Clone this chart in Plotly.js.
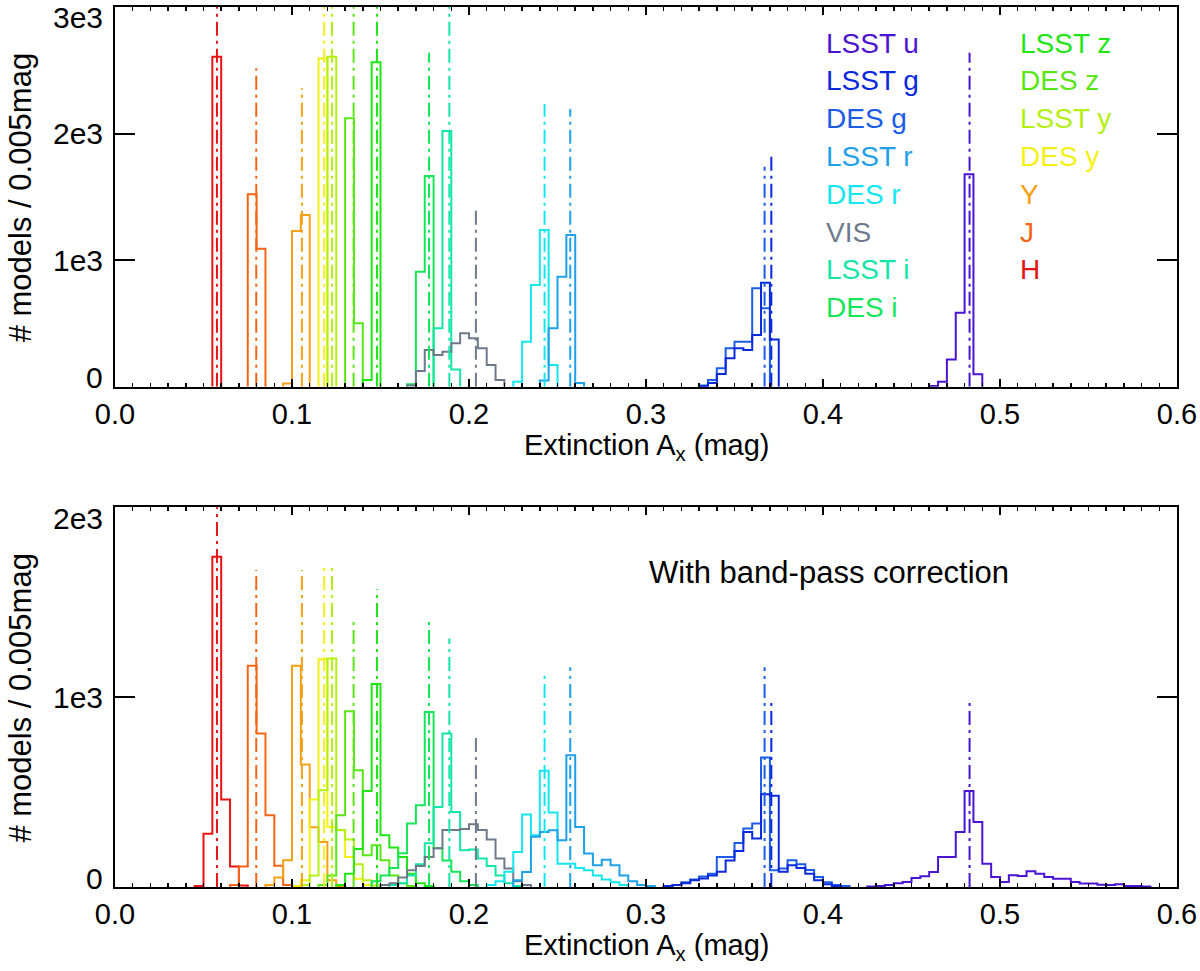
<!DOCTYPE html>
<html><head><meta charset="utf-8">
<script src="https://cdn.plot.ly/plotly-3.0.1.min.js"></script>
<style>body{margin:0;background:#fff}</style>
</head><body><div id="chart" style="width:1200px;height:971px"></div>
<script>
// ---------------- DATA ----------------
const binWidth = 0.005;
const bands = ['LSST u','LSST g','DES g','LSST r','DES r','VIS','LSST i','DES i','LSST z','DES z','LSST y','DES y','Y','J','H'];
const bandColors = ['#4a14d2','#0a28dc','#1a5ce6','#1ea0ea','#14e6f0','#6e7a8c','#14e6a8','#14e65a','#1ee614','#5ae614','#b4f014','#f5f014','#f5a014','#f56414','#e61414'];
// expected extinction of each band (dash-dot lines)
const refX = [0.4828,0.3708,0.3670,0.2572,0.2427,0.2039,0.1889,0.1774,0.1480,0.1348,0.1226,0.1182,0.1056,0.0798,0.0576];
const refHeightTop = [2639,1823,1738,2194,2234,1417,3300,2639,3300,3300,3300,3300,2358,2516,3300];
const refHeightBottom = [980,984,1157,1157,1111,794,1309,1397,1568,1397,1696,1696,1669,1669,2200];

// top panel: left edge of first bin, then counts per 0.005 mag bin
const topStart = [0.460,0.330,0.330,0.240,0.225,0.165,0.180,0.165,0.140,0.130,0.120,0.115,0.095,0.075,0.055];
const topLSSTu = [5,40,216,585,1678,98];
const topLSSTg = [5,30,100,224,303,290,408,822,374];
const topDESg  = [10,53,145,303,356,356,777,619];
const topLSSTr = [50,461,869,1199,30];
const topDESr  = [40,356,803,1238,171];
const topVIS   = [10,124,290,250,277,343,422,382,303,171,53];
const topLSSTi = [461,2020,137];
const topDESi  = [20,908,1665];
const topLSSTz = [53,2563];
const topDESz  = [2121,501];
const topLSSTy = [2607];
const topDESy  = [2594];
const topY     = [25,1230,1357];
const topJ     = [1520,1090];
const topH     = [2607];

// bottom panel (with band-pass correction)
const botStart = [0.425,0.310,0.310,0.225,0.210,0.150,0.155,0.145,0.125,0.115,0.105,0.100,0.085,0.065,0.045];
const botLSSTu = [3,5,10,20,26,47,56,79,158,158,290,506,343,123,53,26,62,58,83,70,53,44,44,26,18,18,12,10,15,5,5,3];
const botLSSTg = [5,10,20,35,45,60,80,140,190,290,255,489,480,80,115,100,70,35,15,5];
const botDESg  = [5,10,25,39,55,70,158,158,232,308,334,682,88,97,141,120,90,53,25,10,5];
const botLSSTr = [35,79,265,290,299,246,694,316,176,115,144,115,60,30,10,5];
const botDESr  = [10,30,80,185,382,273,612,392,123,123,100,88,60,40,25,10];
const botVIS   = [10,20,50,88,110,158,204,300,300,306,330,300,250,150,97,30,10];
const botLSSTi = [10,20,60,120,230,422,809,395,193,197,150,110,60,20,5];
const botDESi  = [30,60,100,178,334,431,922,204,140,80,30,10];
const botLSSTz = [10,70,200,505,1069,272,208,158,70,20,5];
const botDESz  = [10,60,378,926,615,167,220,141,60,20,5];
const botLSSTy = [10,60,510,1204,300,250,120,35,8];
const botDESy  = [5,35,461,1199,316,299,158,44,10];
const botY     = [10,50,141,1165,645,315,237,35,5];
const botJ     = [10,108,1165,809,378,112,10];
const botH     = [5,280,1740,461,108,8];

const xTickVals = [0,0.1,0.2,0.3,0.4,0.5,0.6];
const yTickValsTop = [0,1000,2000,3000];
const yTickTextTop = ['0','1e3','2e3','3e3'];
const yTickValsBot = [0,1000,2000];
const yTickTextBot = ['0','1e3','2e3'];
const legendCol1 = bands.slice(0,8);
const legendCol2 = bands.slice(8);

const topCounts = [topLSSTu,topLSSTg,topDESg,topLSSTr,topDESr,topVIS,topLSSTi,topDESi,topLSSTz,topDESz,topLSSTy,topDESy,topY,topJ,topH];
const botCounts = [botLSSTu,botLSSTg,botDESg,botLSSTr,botDESr,botVIS,botLSSTi,botDESi,botLSSTz,botDESz,botLSSTy,botDESy,botY,botJ,botH];

// ---------------- BUILD ----------------
const FONT = 'Liberation Sans, Helvetica, Arial, sans-serif';
function histTrace(start, counts, color, xa, ya){
  const xs = [start], ys = [0];
  for(let i=0;i<counts.length;i++){ xs.push(+(start+i*binWidth).toFixed(4)); ys.push(counts[i]); }
  xs.push(+(start+counts.length*binWidth).toFixed(4)); ys.push(0);
  return {type:'scatter', mode:'lines', x:xs, y:ys, xaxis:xa, yaxis:ya,
    line:{shape:'hv', color:color, width:2}, hoverinfo:'skip', showlegend:false};
}
function refTrace(x, h, color, xa, ya){
  return {type:'scatter', mode:'lines', x:[x,x], y:[0,h], xaxis:xa, yaxis:ya,
    line:{color:color, width:2, dash:'14px,5px,3px,5px'}, hoverinfo:'skip', showlegend:false};
}
const traces = [];
for(let i=bands.length-1;i>=0;i--){
  traces.push(histTrace(topStart[i], topCounts[i], bandColors[i], 'x', 'y'));
  traces.push(histTrace(botStart[i], botCounts[i], bandColors[i], 'x2', 'y2'));
}
for(let i=bands.length-1;i>=0;i--){
  traces.push(refTrace(refX[i], refHeightTop[i], bandColors[i], 'x', 'y'));
  traces.push(refTrace(refX[i], refHeightBottom[i], bandColors[i], 'x2', 'y2'));
}

function xAxis(anchor){
  return {domain:[0,1], anchor:anchor, range:[0,0.6], showgrid:false, zeroline:false,
    showline:true, linecolor:'#000', linewidth:2, mirror:'allticks',
    ticks:'inside', ticklen:8, tickwidth:2, tickcolor:'#000',
    tickvals:xTickVals, tickformat:'.1f',
    tickfont:{family:FONT, size:29, color:'#000'},
    minor:{dtick:0.01, ticks:'inside', ticklen:4, tickwidth:1.5, tickcolor:'#000'}};
}
function yAxis(anchor, domain, range, vals){
  return {domain:domain, anchor:anchor, range:range, showgrid:false, zeroline:false,
    showline:true, linecolor:'#000', linewidth:2, mirror:'allticks',
    ticks:'inside', ticklen:20, tickwidth:2, tickcolor:'#000',
    tickvals:vals, showticklabels:false};
}

const annotations = [];
const tickShiftTop = [9,0,0,-10];
const tickShiftBot = [9,0,-11];
yTickValsTop.forEach((v,i)=>annotations.push({xref:'paper', yref:'y', x:0, y:v, xanchor:'right', yanchor:'middle',
  xshift:-10, yshift:tickShiftTop[i], text:yTickTextTop[i], showarrow:false, font:{family:FONT,size:30,color:'#000'}}));
yTickValsBot.forEach((v,i)=>annotations.push({xref:'paper', yref:'y2', x:0, y:v, xanchor:'right', yanchor:'middle',
  xshift:-10, yshift:tickShiftBot[i], text:yTickTextBot[i], showarrow:false, font:{family:FONT,size:30,color:'#000'}}));
['y domain','y2 domain'].forEach(yr=>{
  annotations.push({xref:'paper', yref:yr, x:-0.089, y:0.5, textangle:-90, xanchor:'center', yanchor:'middle',
    text:'# models / 0.005mag', showarrow:false, font:{family:FONT,size:31,color:'#000'}});
});
[['x','y domain'],['x2','y2 domain']].forEach(([xr,yr])=>{
  annotations.push({xref:xr, yref:yr, x:0.3, y:-0.158, xanchor:'center', yanchor:'middle',
    text:'Extinction A<sub>x</sub> (mag)', showarrow:false, font:{family:FONT,size:29,color:'#000'}});
});
legendCol1.forEach((t,i)=>annotations.push({xref:'x', yref:'y domain', x:0.4007, y:0.905-i*0.0996, xanchor:'left', yanchor:'middle',
  text:t, showarrow:false, font:{family:FONT,size:28,color:bandColors[i]}}));
legendCol2.forEach((t,i)=>annotations.push({xref:'x', yref:'y domain', x:0.5104, y:0.905-i*0.0996, xanchor:'left', yanchor:'middle',
  text:t, showarrow:false, font:{family:FONT,size:28,color:bandColors[i+8]}}));
annotations.push({xref:'x2', yref:'y2 domain', x:0.3006, y:0.827, xanchor:'left', yanchor:'middle',
  text:'With band-pass correction', showarrow:false, font:{family:FONT,size:31,color:'#000'}});

const layout = {
  width:1200, height:971, margin:{l:115, r:23, t:7, b:84},
  paper_bgcolor:'#fff', plot_bgcolor:'#fff', showlegend:false,
  font:{family:FONT, color:'#000'},
  xaxis: xAxis('y'), yaxis: yAxis('x', [0.5685,1], [0,3000], yTickValsTop),
  xaxis2: xAxis('y2'), yaxis2: yAxis('x2', [0,0.4315], [0,2000], yTickValsBot),
  annotations: annotations
};
Plotly.newPlot('chart', traces, layout, {staticPlot:true, displayModeBar:false});
</script></body></html>
